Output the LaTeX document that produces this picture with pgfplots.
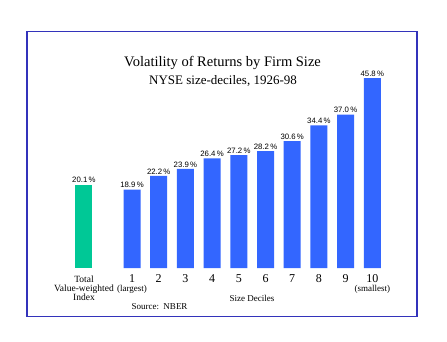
\documentclass[border=0pt]{standalone}
\usepackage{pgfplots}
\pgfplotsset{compat=1.18}
\usepackage{fontspec}
\setmainfont{Liberation Serif}
\newfontfamily\lsans{Liberation Sans}
\definecolor{barblue}{HTML}{3366FF}
\definecolor{bargreen}{HTML}{00C896}
\definecolor{framec}{HTML}{3333BB}
\begin{document}
\begin{tikzpicture}
\begin{axis}[
  name=ax,
  scale only axis,
  width=390pt, height=285pt,
  xmin=-2.933, xmax=11.674,
  ymin=-11.69, ymax=57.01,
  xtick=\empty, ytick=\empty,
  axis line style={framec, line width=1.2pt},
  clip=false,
  ybar, bar width=17pt,
  nodes near coords={\pgfmathprintnumber[fixed,fixed zerofill,precision=1,assume math mode=true]{\pgfplotspointmeta}\,\%},
  every node near coord/.append style={font=\lsans\fontsize{7.8}{8}\selectfont, black, inner sep=1.5pt},
]
\addplot[bargreen, fill=bargreen, draw=none, bar shift=0pt] coordinates {(-0.8,20.1)};
\addplot[barblue, fill=barblue, draw=none, bar shift=0pt] coordinates {
(1,18.9) (2,22.2) (3,23.9) (4,26.4) (5,27.2) (6,28.2) (7,30.6) (8,34.4) (9,37.0) (10,45.8)};
\node[font=\fontsize{14.5}{16}\selectfont] at (axis cs:4.39,49.4) {Volatility of Returns by Firm Size};
\node[font=\fontsize{13}{15}\selectfont] at (axis cs:4.41,45.1) {NYSE size-deciles, 1926-98};
\pgfplotsinvokeforeach{1,...,10}{
  \node[font=\fontsize{12}{12}\selectfont, inner sep=0pt] at (axis cs:#1,-2.55) {#1};
}
\node[font=\fontsize{9}{9}\selectfont, inner sep=0pt] at (axis cs:1,-5.1) {(largest)};
\node[font=\fontsize{9}{9}\selectfont, inner sep=0pt] at (axis cs:10,-5.1) {(smallest)};
\node[font=\fontsize{9.5}{9}\selectfont, align=center, anchor=north, inner sep=0pt] at (axis cs:-0.8,-1.95) {Total\\Value-weighted\\Index};
\node[font=\fontsize{9}{9}\selectfont, inner sep=0pt] at (axis cs:5.49,-7.23) {Size Deciles};
\node[font=\fontsize{9}{9}\selectfont, inner sep=0pt] at (axis cs:2.03,-9.4) {Source:\ \ NBER};
\end{axis}
\path ([xshift=-27pt,yshift=-25.5pt]ax.south west) rectangle ([xshift=30pt,yshift=31.5pt]ax.north east);
\end{tikzpicture}
\end{document}
